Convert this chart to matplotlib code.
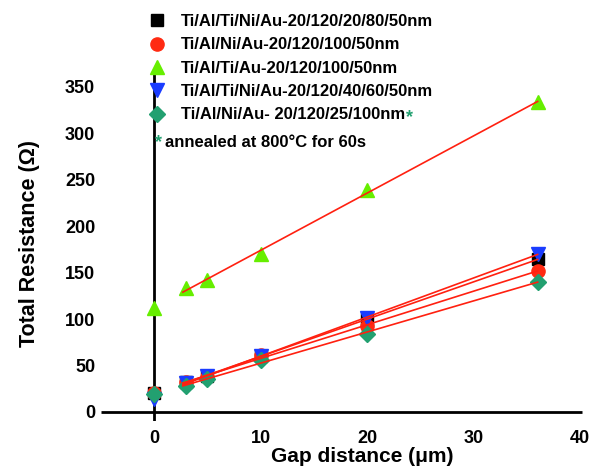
import numpy as np
import matplotlib
matplotlib.use("Agg")
import matplotlib.pyplot as plt
from matplotlib.lines import Line2D

plt.rcParams['font.family'] = ['Liberation Sans', 'DejaVu Sans']
plt.rcParams['font.weight'] = 'bold'

# gap distance (um) and total resistance (ohm) per metal stack
gap = [0, 3, 5, 10, 20, 36]
r_tialtiniau_80 = [20, 32, 39, 60, 100, 164]
r_tialniau = [20, 32, 38, 61, 92, 152]
r_tialtiau = [112, 133, 142, 170, 239, 333]
r_tialtiniau_60 = [14, 31, 39, 60, 101, 170]
r_tialniau_ann = [19, 28, 35, 56, 84, 140]

labels = ['Ti/Al/Ti/Ni/Au-20/120/20/80/50nm',
          'Ti/Al/Ni/Au-20/120/100/50nm',
          'Ti/Al/Ti/Au-20/120/100/50nm',
          'Ti/Al/Ti/Ni/Au-20/120/40/60/50nm',
          'Ti/Al/Ni/Au- 20/120/25/100nm']
series = [r_tialtiniau_80, r_tialniau, r_tialtiau, r_tialtiniau_60, r_tialniau_ann]
markers = ['s', 'o', '^', 'v', 'D']
colors = ['#000000', '#ff2a12', '#66ee00', '#1a3cff', '#22a070']
sizes = [8.5, 9.5, 10, 10, 8.5]

yticks = [0, 50, 100, 150, 200, 250, 300, 350]
xticks = [0, 10, 20, 30, 40]

fig = plt.figure(figsize=(6, 4.68), dpi=100)
ax = fig.add_axes([0.168, 0.0998, 0.808, 0.759])

x = np.array(gap, dtype=float)
fit_x = np.array([2.7, 36])
handles = []
for y, m, c, s, lab in zip(series, markers, colors, sizes, labels):
    y = np.array(y, dtype=float)
    ax.plot(x, y, linestyle='none', marker=m, color=c, ms=s, zorder=3)
    k, b = np.polyfit(x[1:], y[1:], 1)
    ax.plot(fit_x, k * fit_x + b, color='#ff2010', lw=1.2, zorder=4)
    handles.append(Line2D([], [], linestyle='none', marker=m, color=c, ms=s, label=lab))

ax.set_xlim(-5, 40.5)
ax.set_ylim(-10, 372)
for sp in ax.spines.values():
    sp.set_visible(False)
ax.hlines(0, -5, 40.2, color='black', lw=2, zorder=2)
ax.vlines(0, -10, 370, color='black', lw=2, zorder=2)

ax.set_yticks(yticks)
ax.set_xticks(xticks)
ax.tick_params(length=0, labelsize=13)
ax.tick_params(axis='y', pad=4)
ax.tick_params(axis='x', pad=6)
for t in ax.get_xticklabels() + ax.get_yticklabels():
    t.set_fontweight('bold')

ax.set_ylabel('Total Resistance (Ω)', fontsize=15.5, fontweight='bold')
ax.yaxis.set_label_coords(-0.126, 0.50)
ax.set_xlabel('Gap distance (μm)', fontsize=15, fontweight='bold', va='center')
ax.xaxis.set_label_coords(0.539, -0.099)

leg = fig.legend(handles=handles, loc='upper left', bbox_to_anchor=(0.237, 0.984),
                 frameon=False, fontsize=12, handlelength=1.0, handletextpad=0.9,
                 labelspacing=0.5, borderaxespad=0)
for t in leg.get_texts():
    t.set_fontweight('bold')

fig.canvas.draw()
bb = leg.get_texts()[4].get_window_extent()
ax.annotate('*', xy=(bb.x1 + 1, bb.y1 - 2), xycoords='figure pixels', color='#22a070',
            fontsize=13, fontweight='bold', ha='left', va='top')
fig.text(0.258, 0.695, '*', color='#22a070', fontsize=13, fontweight='bold', va='center')
fig.text(0.275, 0.695, 'annealed at 800°C for 60s', fontsize=12, fontweight='bold', va='center')

fig.savefig('out.png', dpi=100)
